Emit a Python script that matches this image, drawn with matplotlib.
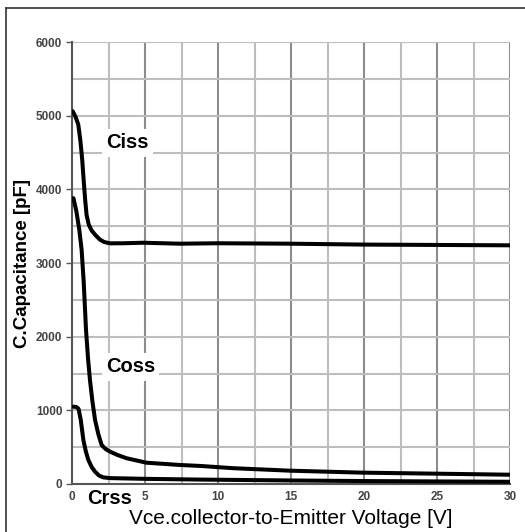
import numpy as np
import matplotlib.pyplot as plt
from matplotlib.lines import Line2D

plt.rcParams['font.family'] = ['Liberation Sans', 'DejaVu Sans']

# Ciss curve
ciss_v = [0.05, 0.25, 0.43, 0.58, 0.7, 0.8, 0.9, 1.0, 1.15, 1.35, 1.6, 1.9, 2.2, 2.6, 3.5, 4.9, 7.4, 10, 15, 20, 25, 30]
ciss_c = [5060, 4980, 4880, 4650, 4400, 4120, 3860, 3650, 3520, 3440, 3380, 3320, 3285, 3267, 3268, 3275, 3262, 3268, 3262, 3250, 3245, 3240]

# Coss curve
coss_v = [0.1, 0.3, 0.5, 0.66, 0.8, 0.96, 1.1, 1.23, 1.4, 1.58, 1.8, 2.03, 2.3, 2.6, 3.1, 3.75, 5.1, 7.4, 8.8, 11, 14.9, 19.9, 25, 30]
coss_c = [3880, 3700, 3450, 3176, 2750, 2090, 1700, 1412, 1120, 869, 680, 529, 475, 440, 395, 349, 289, 258, 245, 215, 181, 154, 140, 126]

# Crss curve
crss_v = [0.1, 0.3, 0.45, 0.6, 0.78, 0.95, 1.12, 1.35, 1.58, 1.85, 2.14, 2.6, 5, 8.8, 15, 20, 25, 30]
crss_c = [1050, 1045, 1020, 869, 597, 440, 326, 230, 167, 115, 90, 80, 70, 60, 48, 40, 35, 30]

fig = plt.figure(figsize=(5.25, 5.32), dpi=100)
ax = fig.add_axes([72/525, 48/532, 438/525, 442/532])

ax.set_xlim(0, 30)
ax.set_ylim(0, 6000)

# grid
for v in np.arange(2.5, 30.1, 2.5):
    col = '#8c8c8c' if v % 5 == 0 else '#bdbdbd'
    ax.axvline(v, color=col, lw=1.5, zorder=1)
for c in np.arange(500, 6001, 500):
    ax.axhline(c, color='#bdbdbd', lw=1.5, zorder=1)

for x, y in [(ciss_v, ciss_c), (coss_v, coss_c), (crss_v, crss_c)]:
    ax.plot(x, y, color='black', lw=2.9, zorder=3,
            solid_capstyle='round', solid_joinstyle='round')

lbl = dict(fontsize=14.5, fontweight='bold', ha='center', va='center', zorder=4,
           bbox=dict(facecolor='white', edgecolor='none', pad=3))
ax.text(3.8, 4630, 'Ciss', **lbl)
ax.text(4.0, 1590, 'Coss', **lbl)
ax.text(2.6, -195, 'Crss', clip_on=False, fontsize=14.5, fontweight='bold',
        ha='center', va='center', zorder=4)

ax.set_xticks([0, 5, 10, 15, 20, 25, 30])
ax.set_yticks([0, 1000, 2000, 3000, 4000, 5000, 6000])
ax.tick_params(axis='x', length=0, pad=5, labelsize=8.5, labelcolor='#444444')
ax.tick_params(axis='y', length=4, width=1, direction='out', color='#555555',
               pad=3, labelsize=8.5, labelcolor='#444444')
for t in ax.get_xticklabels() + ax.get_yticklabels():
    t.set_fontweight('bold')

for s in ['top', 'right']:
    ax.spines[s].set_visible(False)
ax.spines['left'].set_color('#555555')
ax.spines['left'].set_linewidth(1.5)
ax.spines['bottom'].set_color('#555555')
ax.spines['bottom'].set_linewidth(1.5)

ax.set_xlabel('Vce.collector-to-Emitter Voltage [V]', fontsize=15, labelpad=0)
ax.set_ylabel('C.Capacitance [pF]', fontsize=13.5, fontweight='bold', labelpad=2)
ax.yaxis.set_label_coords(-0.093, 0.5)
ax.xaxis.set_label_coords(0.5, -0.056)

# picture frame (top and left edges)
fig.add_artist(Line2D([6/525, 1], [1 - 8/532, 1 - 8/532], color='#333333', lw=1.2))
fig.add_artist(Line2D([6/525, 6/525], [0, 1 - 8/532], color='#333333', lw=1.2))

fig.savefig('out.png', dpi=100)
